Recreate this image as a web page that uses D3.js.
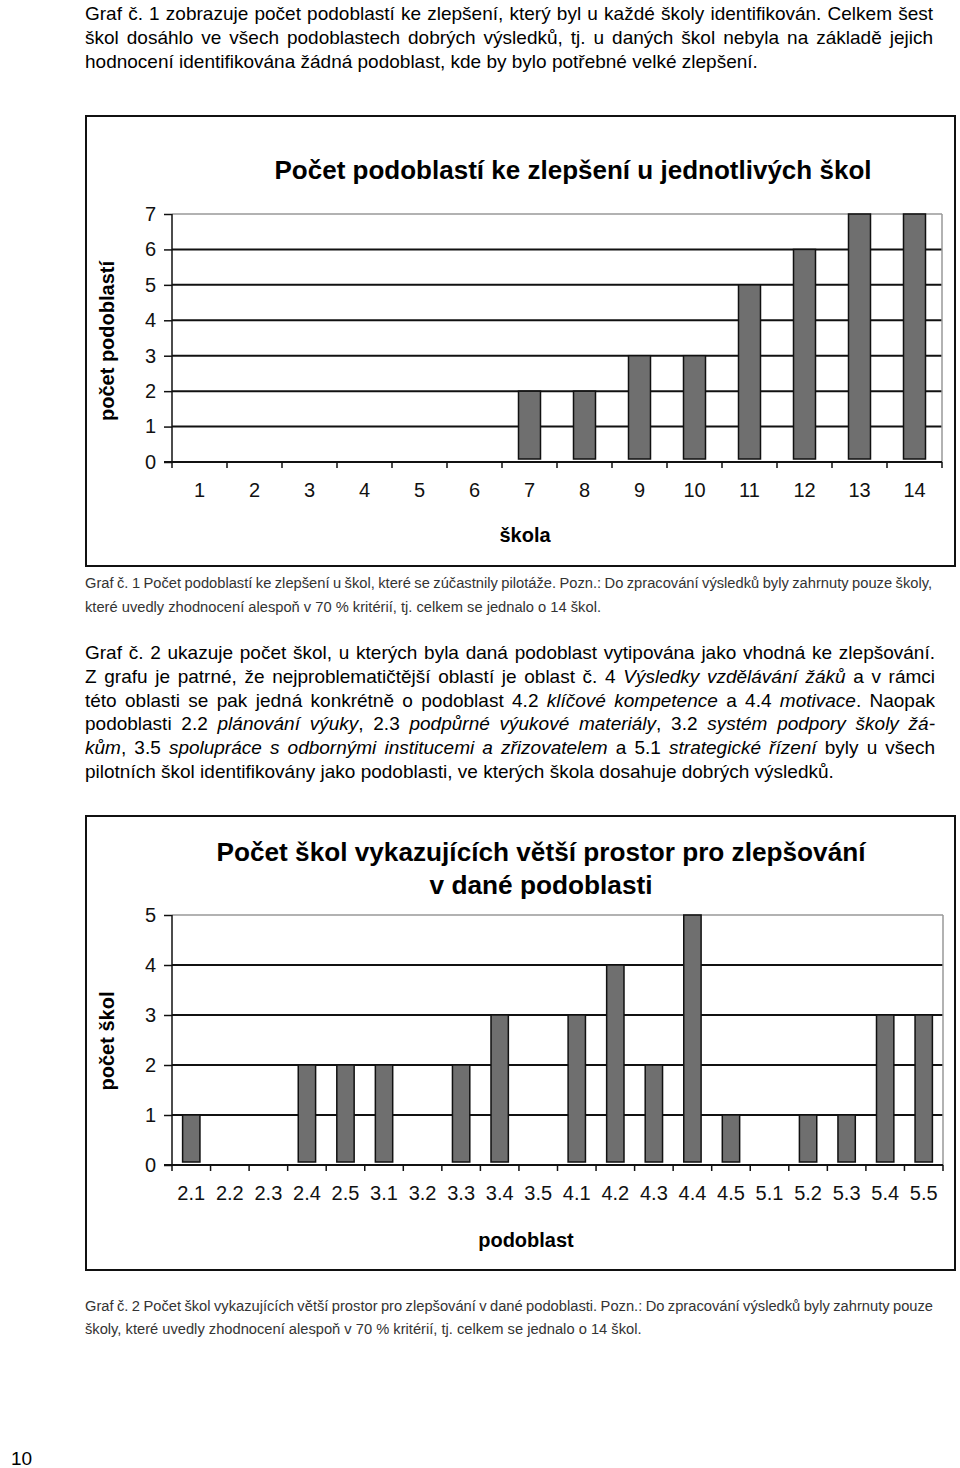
<!DOCTYPE html>
<html><head><meta charset="utf-8">
<script src="https://cdn.jsdelivr.net/npm/d3@7/dist/d3.min.js"></script>
<style>
html,body{margin:0;padding:0;background:#fff;}
svg{display:block;font-family:"Liberation Sans",Arial,Helvetica,sans-serif;}
</style></head>
<body>
<svg id="page" width="960" height="1468"></svg>
<script>
// ---- data ----
const schools = ["1","2","3","4","5","6","7","8","9","10","11","12","13","14"];
const schoolCounts = [0,0,0,0,0,0,2,2,3,3,5,6,7,7];
const yTicks1 = [0,1,2,3,4,5,6,7];

const subareas = ["2.1","2.2","2.3","2.4","2.5","3.1","3.2","3.3","3.4","3.5","4.1","4.2","4.3","4.4","4.5","5.1","5.2","5.3","5.4","5.5"];
const subareaCounts = [1,0,0,2,2,2,0,2,3,0,3,4,2,5,1,0,1,1,3,3];
const yTicks2 = [0,1,2,3,4,5];

const svg = d3.select("#page");

// ---- text helpers ----
function textLine(x, y, parts, opts) {
  const t = svg.append("text").attr("x", x).attr("y", y)
    .attr("font-size", opts.size).attr("fill", opts.color || "#000");
  parts.forEach(p => {
    const s = typeof p === "string" ? {t:p} : p;
    const ts = t.append("tspan").text(s.t);
    if (s.i) ts.attr("font-style", "italic");
  });
  if (opts.width) {
    const natural = t.node().getComputedTextLength();
    const full = parts.map(p => typeof p === "string" ? p : p.t).join("");
    const spaces = (full.match(/ /g) || []).length;
    if (spaces > 0) t.attr("word-spacing", (opts.width - natural) / spaces);
  }
  return t;
}

// Paragraph 1
const p1 = [
  ["Graf č. 1 zobrazuje počet podoblastí ke zlepšení, který byl u každé školy identifikován. Celkem šest"],
  ["škol dosáhlo ve všech podoblastech dobrých výsledků, tj. u daných škol nebyla na základě jejich"],
  ["hodnocení identifikována žádná podoblast, kde by bylo potřebné velké zlepšení."]
];
p1.forEach((l,i) => textLine(85, 20 + i*24, l, {size:19, width: i < 2 ? 848 : null}));

// Caption 1
textLine(85, 588, ["Graf č. 1 Počet podoblastí ke zlepšení u škol, které se zúčastnily pilotáže. Pozn.: Do zpracování výsledků byly zahrnuty pouze školy,"], {size:14.7, color:"#333", width:847});
textLine(85, 612, ["které uvedly zhodnocení alespoň v 70 % kritérií, tj. celkem se jednalo o 14 škol."], {size:14.7, color:"#333"});

// Paragraph 2
const p2 = [
  ["Graf č. 2 ukazuje počet škol, u kterých byla daná podoblast vytipována jako vhodná ke zlepšování."],
  ["Z grafu je patrné, že nejproblematičtější oblastí je oblast č. 4 ", {t:"Výsledky vzdělávání žáků", i:1}, " a v rámci"],
  ["této oblasti se pak jedná konkrétně o podoblast 4.2 ", {t:"klíčové kompetence", i:1}, " a 4.4 ", {t:"motivace", i:1}, ". Naopak"],
  ["podoblasti 2.2 ", {t:"plánování výuky", i:1}, ", 2.3 ", {t:"podpůrné výukové materiály", i:1}, ", 3.2 ", {t:"systém podpory školy žá-", i:1}],
  [{t:"kům", i:1}, ", 3.5 ", {t:"spolupráce s odbornými institucemi a zřizovatelem", i:1}, " a 5.1 ", {t:"strategické řízení", i:1}, " byly u všech"],
  ["pilotních škol identifikovány jako podoblasti, ve kterých škola dosahuje dobrých výsledků."]
];
p2.forEach((l,i) => textLine(85, 659 + i*23.8, l, {size:19, width: i < 5 ? 850 : null}));

// Caption 2
textLine(85, 1311, ["Graf č. 2 Počet škol vykazujících větší prostor pro zlepšování v dané podoblasti. Pozn.: Do zpracování výsledků byly zahrnuty pouze"], {size:14.7, color:"#333", width:848});
textLine(85, 1334, ["školy, které uvedly zhodnocení alespoň v 70 % kritérií, tj. celkem se jednalo o 14 škol."], {size:14.7, color:"#333"});

// Page number
svg.append("text").attr("x", 11).attr("y", 1465).attr("font-size", 19).text("10");

// ---- chart builder ----
function barChart(cfg) {
  const g = svg.append("g");
  // frame
  g.append("rect").attr("x", cfg.frame[0]).attr("y", cfg.frame[1])
    .attr("width", cfg.frame[2]-cfg.frame[0]).attr("height", cfg.frame[3]-cfg.frame[1])
    .attr("fill", "#fff").attr("stroke", "#111").attr("stroke-width", 2);

  const x = d3.scaleBand().domain(cfg.cats).range([cfg.left, cfg.right]).paddingInner(cfg.pad).paddingOuter(cfg.pad/2);
  const xb = d3.scaleBand().domain(cfg.cats).range([cfg.left, cfg.right]);
  const y = d3.scaleLinear().domain([0, d3.max(cfg.ticks)]).range([cfg.bottom, cfg.top]);

  // titles
  cfg.title.forEach((t,i) => {
    g.append("text").attr("x", cfg.titleX).attr("y", cfg.titleY + i*33)
      .attr("text-anchor","middle").attr("font-weight","bold").attr("font-size", 25)
      .attr("textLength", cfg.titleW[i]).attr("lengthAdjust","spacingAndGlyphs").text(t);
  });

  // gridlines
  const top = d3.max(cfg.ticks);
  g.selectAll(".grid").data(cfg.ticks.filter(v => v > 0)).join("line")
    .attr("x1", cfg.left).attr("x2", cfg.right)
    .attr("y1", d => y(d)).attr("y2", d => y(d))
    .attr("stroke", d => d === top ? "#999" : "#111")
    .attr("stroke-width", d => d === top ? 1.5 : 2);
  // right border of plot area
  g.append("line").attr("x1", cfg.right).attr("x2", cfg.right)
    .attr("y1", y(top)).attr("y2", cfg.bottom).attr("stroke", "#999").attr("stroke-width", 1.5);

  // bars
  g.selectAll(".bar").data(cfg.vals.map((v,i) => ({c: cfg.cats[i], v})).filter(d => d.v > 0)).join("rect")
    .attr("x", d => x(d.c)).attr("width", x.bandwidth())
    .attr("y", d => y(d.v)).attr("height", d => y(0) - y(d.v) - 3)
    .attr("fill", "#6f6f6f").attr("stroke", "#111").attr("stroke-width", 1.5);

  // y axis
  const ya = g.append("g").attr("transform", `translate(${cfg.left},0)`)
    .call(d3.axisLeft(y).tickValues(cfg.ticks).tickFormat(d3.format("d")).tickSize(8).tickPadding(8));
  ya.select(".domain").attr("stroke", "#111").attr("stroke-width", 1.5).attr("d", `M0,${y(top)}V${cfg.bottom}`);
  ya.selectAll(".tick line").attr("stroke", "#111").attr("stroke-width", 1.5);
  ya.selectAll(".tick text").attr("font-size", 20).attr("fill", "#111")
    .attr("font-family", "'Liberation Sans',Arial,sans-serif");

  // x axis line and ticks at band boundaries
  g.append("line").attr("x1", cfg.left - 8).attr("x2", cfg.right)
    .attr("y1", cfg.bottom).attr("y2", cfg.bottom).attr("stroke", "#111").attr("stroke-width", 2);
  const bounds = cfg.cats.map(c => xb(c)).concat([cfg.right]);
  g.selectAll(".xt").data(bounds).join("line")
    .attr("x1", d => d).attr("x2", d => d)
    .attr("y1", cfg.bottom).attr("y2", cfg.bottom + 6)
    .attr("stroke", "#111").attr("stroke-width", 1.5);
  g.selectAll(".xl").data(cfg.cats).join("text")
    .attr("x", d => xb(d) + xb.bandwidth()/2).attr("y", cfg.bottom + 35)
    .attr("text-anchor", "middle").attr("font-size", cfg.xFont).attr("fill", "#111").text(d => d);

  // axis titles
  g.append("text").attr("x", cfg.xTitle[0]).attr("y", cfg.xTitle[1])
    .attr("text-anchor","middle").attr("font-weight","bold").attr("font-size", 20).text(cfg.xLabel);
  g.append("text").attr("transform", `translate(${cfg.yTitle[0]},${cfg.yTitle[1]}) rotate(-90)`)
    .attr("text-anchor","middle").attr("font-weight","bold").attr("font-size", 20).text(cfg.yLabel);
}

barChart({
  frame: [86, 116, 955, 566],
  cats: schools, vals: schoolCounts, ticks: yTicks1,
  left: 172, right: 942, top: 214, bottom: 462, pad: 0.6,
  title: ["Počet podoblastí ke zlepšení u jednotlivých škol"], titleX: 573, titleY: 179, titleW: [597],
  xLabel: "škola", xTitle: [525, 542], yLabel: "počet podoblastí", yTitle: [114, 341], xFont: 20
});

barChart({
  frame: [86, 816, 955, 1270],
  cats: subareas, vals: subareaCounts, ticks: yTicks2,
  left: 172, right: 943, top: 915, bottom: 1165, pad: 0.55,
  title: ["Počet škol vykazujících větší prostor pro zlepšování", "v dané podoblasti"], titleX: 541, titleY: 861, titleW: [649, 223],
  xLabel: "podoblast", xTitle: [526, 1247], yLabel: "počet škol", yTitle: [114, 1041], xFont: 20
});
</script>
</body></html>
